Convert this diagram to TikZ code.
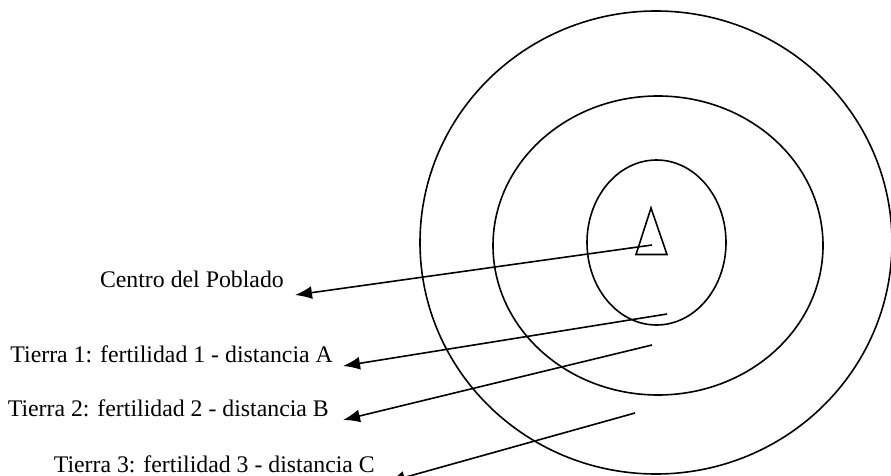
\documentclass[tikz,border=0pt]{standalone}
\usepackage{fontspec}
\setmainfont{Liberation Serif}
\usetikzlibrary{arrows.meta}
\begin{document}
\begin{tikzpicture}[x=1pt,y=-1pt,
    ring/.style={draw=black,line width=1.6pt},
    pointer/.style={draw=black,line width=1.6pt,-{Latex[length=17pt,width=13pt]}},
    caption/.style={inner sep=0pt,anchor=base east,font=\fontsize{23.8}{28}\selectfont}]
  \useasboundingbox (0,0) rectangle (891,476);
  % concentric land rings around the village
  \draw[ring] (656,242.5) ellipse [x radius=236, y radius=231.5];
  \draw[ring] (658,245.5) ellipse [x radius=165, y radius=149.5];
  \draw[ring] (656.5,242.5) ellipse [x radius=69.5, y radius=82.5];
  % village centre marker
  \draw[ring,line join=miter] (651,208) -- (636,254.5) -- (667,254.5) -- cycle;
  % arrow origins inside the rings
  \coordinate (s1) at (652,245);
  \coordinate (s2) at (667,314);
  \coordinate (s3) at (652,345);
  \coordinate (s4) at (635,413);
  % labels
  \node[caption] (centro) at (284,287) {Centro del Poblado};
  \node[caption] (t1) at (333,362) {Tierra 1: fertilidad 1 - distancia A};
  \node[caption] (t2) at (329,416) {Tierra 2: fertilidad 2 - distancia B};
  \node[caption] (t3) at (375,472) {Tierra 3: fertilidad 3 - distancia C};
  % arrow tips beside the labels
  \coordinate (e1) at ([xshift=11pt,yshift=-8pt]centro.base east);
  \coordinate (e2) at ([xshift=10pt,yshift=-4pt]t1.base east);
  \coordinate (e3) at ([xshift=14pt,yshift=-4pt]t2.base east);
  \coordinate (e4) at ([xshift=13pt,yshift=-10pt]t3.base east);
  \draw[pointer] (s1) -- (e1);
  \draw[pointer] (s2) -- (e2);
  \draw[pointer] (s3) -- (e3);
  \draw[pointer] (s4) -- (e4);
\end{tikzpicture}
\end{document}
